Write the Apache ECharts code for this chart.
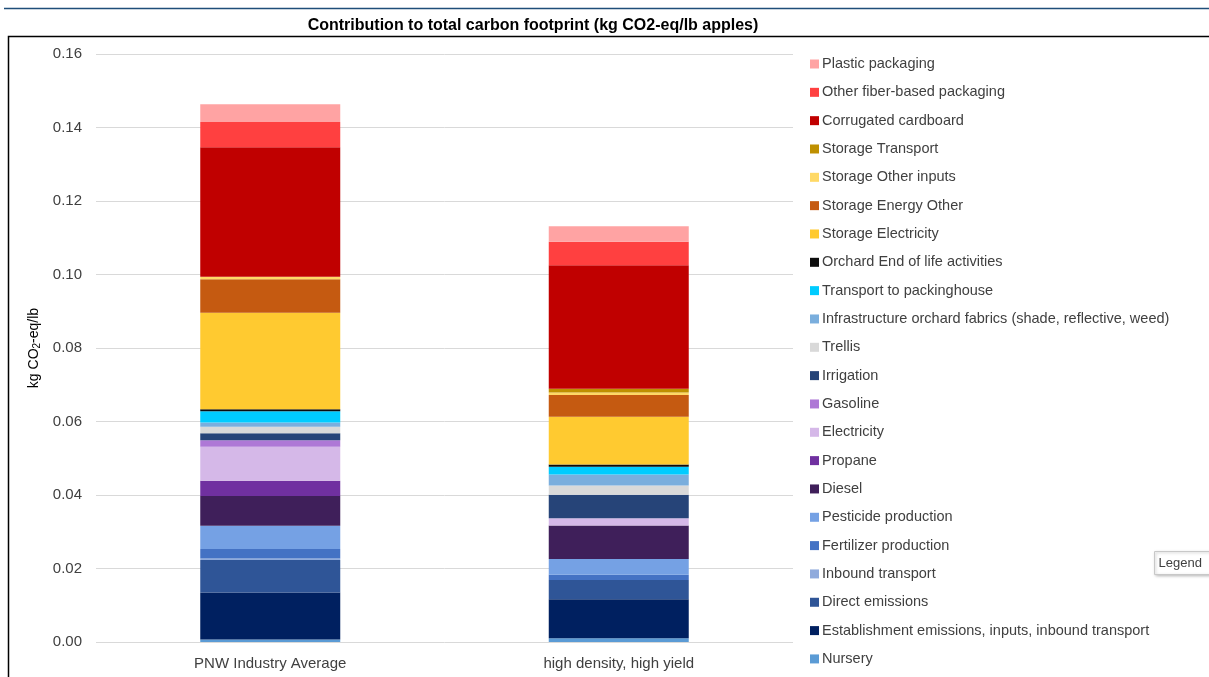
<!DOCTYPE html>
<html>
<head>
<meta charset="utf-8">
<script src="https://cdn.jsdelivr.net/npm/echarts@6/dist/echarts.min.js"></script>
<style>
  html, body { margin: 0; padding: 0; background: #fff; }
  #chart { width: 1209px; height: 677px; }
</style>
</head>
<body>
<div id="chart"></div>
<script>
// Scenarios on the x axis
const categories = ['PNW Industry Average', 'high density, high yield'];

// Footprint components, stacked from the bottom of each bar upwards
const components = [
  'Nursery',
  'Establishment emissions, inputs, inbound transport',
  'Direct emissions',
  'Inbound transport',
  'Fertilizer production',
  'Pesticide production',
  'Diesel',
  'Propane',
  'Electricity',
  'Gasoline',
  'Irrigation',
  'Trellis',
  'Infrastructure orchard fabrics (shade, reflective, weed)',
  'Transport to packinghouse',
  'Orchard End of life activities',
  'Storage Electricity',
  'Storage Energy Other',
  'Storage Other inputs',
  'Storage Transport',
  'Corrugated cardboard',
  'Other fiber-based packaging',
  'Plastic packaging'
];

// kg CO2-eq per lb apples, same order as components
const pnwAverage = [
  0.0007, 0.0128, 0.0088, 0.0004, 0.0026, 0.0063, 0.0081, 0.0042, 0.0092, 0.0018, 0.0019,
  0.0018, 0.0011, 0.0031, 0.0005, 0.0263, 0.0091, 0.0007, 0.0000, 0.0352, 0.0069, 0.0048
];
const highDensity = [
  0.0010, 0.0106, 0.0053, 0.0000, 0.0014, 0.0043, 0.0091, 0.0000, 0.0020, 0.0000, 0.0064,
  0.0025, 0.0030, 0.0021, 0.0006, 0.0130, 0.0059, 0.0007, 0.0010, 0.0336, 0.0064, 0.0042
];

// Fill colour per component
const componentColors = [
  '#5B9BD5', '#002060', '#2F5597', '#8FAADC', '#4472C4', '#75A1E4', '#3F1F5A', '#7030A0',
  '#D5B8E8', '#AE78D6', '#264478', '#D9D9D9', '#7AAEDD', '#00CCFF', '#0D0D0D', '#FFCA30',
  '#C55A11', '#FFD966', '#BF9000', '#C00000', '#FF4040', '#FFA3A3'
];

const yTicks = { min: 0, max: 0.16, interval: 0.02 };

const FONT = '"Liberation Sans", Arial, sans-serif';

const series = components.map((name, i) => ({
  name: name,
  type: 'bar',
  stack: 'total',
  barWidth: 140,
  itemStyle: { color: componentColors[i] },
  emphasis: { disabled: true },
  data: [pnwAverage[i], highDensity[i]]
}));

const chart = echarts.init(document.getElementById('chart'), null, { renderer: 'canvas' });

chart.setOption({
  animation: false,
  backgroundColor: '#ffffff',
  title: {
    text: 'Contribution to total carbon footprint (kg CO2-eq/lb apples)',
    left: 528,
    textAlign: 'center',
    top: 13,
    textStyle: { fontFamily: FONT, fontSize: 16, fontWeight: 'bold', color: '#000' }
  },
  grid: { left: 96, right: 416, top: 54, bottom: 35, containLabel: false },
  legend: {
    orient: 'vertical',
    left: 805,
    top: 51,
    itemWidth: 9,
    itemHeight: 9,
    itemGap: 12.33,
    icon: 'rect',
    data: components.slice().reverse(),
    textStyle: { fontFamily: FONT, fontSize: 14.5, color: '#404040', lineHeight: 16, padding: [0, 0, 0, -2] },
    selectedMode: false
  },
  xAxis: {
    type: 'category',
    data: categories,
    axisLine: { show: false },
    axisTick: { show: false },
    axisLabel: { fontFamily: FONT, fontSize: 15, color: '#404040', margin: 14 }
  },
  yAxis: {
    type: 'value',
    min: yTicks.min,
    max: yTicks.max,
    interval: yTicks.interval,
    name: '{a|kg CO}{s|2}{a|-eq/lb}',
    nameLocation: 'middle',
    nameRotate: 90,
    nameGap: 40,
    nameTextStyle: {
      rich: {
        a: { fontFamily: FONT, fontSize: 14, color: '#000', lineHeight: 18 },
        s: { fontFamily: FONT, fontSize: 10, color: '#000', lineHeight: 18, padding: [6, 0, 0, 0] }
      }
    },
    axisLine: { show: false },
    axisTick: { show: false },
    splitLine: { lineStyle: { color: '#D9D9D9', width: 1 } },
    axisLabel: {
      fontFamily: FONT, fontSize: 15, color: '#404040', margin: 14,
      formatter: v => v.toFixed(2)
    }
  },
  graphic: [
    { type: 'line', shape: { x1: 4, y1: 8.5, x2: 1209, y2: 8.5 }, style: { stroke: '#1F4E79', lineWidth: 1.5 }, silent: true },
    { type: 'rect', shape: { x: 8.5, y: 36.5, width: 1220, height: 700 }, style: { fill: 'none', stroke: '#000', lineWidth: 1.5 }, silent: true },
    {
      type: 'group', left: 1154, top: 551, silent: true,
      children: [
        { type: 'rect', shape: { x: 0, y: 0, width: 60, height: 23 },
          style: { fill: '#fff', stroke: '#C8C8C8', lineWidth: 1, shadowBlur: 3, shadowColor: 'rgba(0,0,0,0.25)', shadowOffsetX: 1, shadowOffsetY: 1 } },
        { type: 'text', x: 4, y: 5, style: { text: 'Legend', fontFamily: FONT, fontSize: 13, fill: '#404040' } }
      ]
    }
  ],
  series: series
});
</script>
</body>
</html>
